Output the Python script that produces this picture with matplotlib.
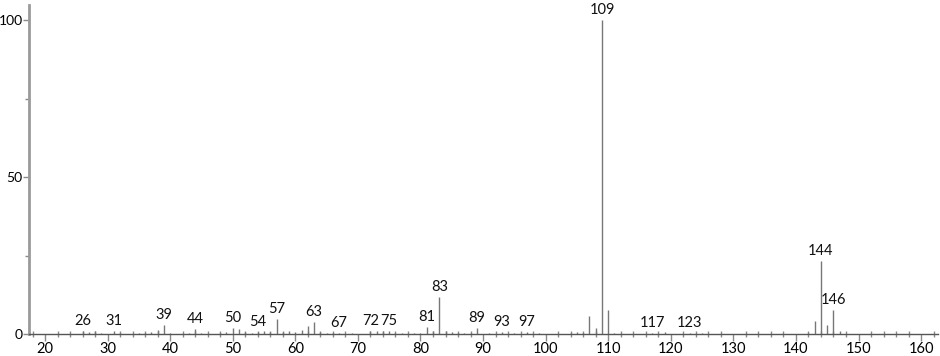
import matplotlib
matplotlib.use("Agg")
import matplotlib.pyplot as plt
from matplotlib.ticker import MultipleLocator

# mass spectrum peaks (m/z, relative intensity %)
mz = [26, 27, 28, 29, 31, 32, 35, 36, 37, 38, 39, 40, 43, 44, 45, 48, 49, 50, 51, 52,
      53, 54, 55, 56, 57, 58, 59, 60, 61, 62, 63, 64, 65, 66, 67, 69, 72, 73, 74, 75,
      76, 77, 79, 80, 81, 82, 83, 84, 85, 86, 87, 88, 89, 91, 93, 95, 97, 99,
      104, 105, 106, 107, 108, 109, 110, 111, 117, 119, 123, 125,
      142, 143, 144, 145, 146, 147]
intensity = [0.8, 0.6, 0.9, 0.3, 0.8, 0.4, 0.3, 0.4, 0.6, 1.2, 2.8, 0.4, 0.3, 1.5, 0.4, 0.3, 0.5, 1.8, 1.6, 0.5,
             0.4, 0.6, 0.8, 0.5, 4.8, 0.5, 1.0, 0.6, 1.3, 2.5, 3.7, 0.6, 0.4, 0.3, 0.4, 0.3, 0.9, 0.8, 0.9, 1.0,
             0.4, 0.3, 0.3, 0.4, 2.3, 1.0, 11.9, 1.0, 0.5, 0.4, 0.3, 0.4, 1.8, 0.3, 0.5, 0.3, 0.5, 0.2,
             0.3, 0.5, 0.4, 5.8, 1.8, 100.0, 7.7, 0.4, 0.3, 0.5, 0.3, 0.3,
             0.3, 4.1, 23.2, 2.9, 7.6, 1.0]

labeled = [26, 31, 39, 44, 50, 54, 57, 63, 67, 72, 75, 81, 83, 89, 93, 97,
           109, 117, 123, 144, 146]

grey = "#8a8a8a"
plt.rcParams['font.family'] = ['Lato', 'DejaVu Sans']

fig = plt.figure(figsize=(9.4, 3.56), dpi=100)
ax = fig.add_axes([29 / 940, 22 / 356, 909 / 940, 329 / 356])

ax.vlines(mz, 0, intensity, color="#777777", linewidth=1.0)

peak = dict(zip(mz, intensity))
for m in labeled:
    h = peak.get(m, 0.3)
    ax.text(m, h + 1.0, str(m), ha="center", va="bottom", fontsize=10.5, color="#111111")

ax.set_xlim(17.44, 162.7)
ax.set_ylim(0, 104.8)

ax.xaxis.set_major_locator(MultipleLocator(10))
ax.xaxis.set_minor_locator(MultipleLocator(2))
ax.yaxis.set_major_locator(MultipleLocator(50))
ax.yaxis.set_minor_locator(MultipleLocator(25))

ax.tick_params(axis="x", which="major", direction="out", length=5, width=1, color=grey,
               labelsize=10.5, pad=1)
ax.tick_params(axis="x", which="minor", direction="inout", length=5, width=1, color=grey)
ax.tick_params(axis="y", which="major", direction="out", length=4, width=1, color=grey,
               labelsize=10, pad=0.5)
ax.tick_params(axis="y", which="minor", direction="out", length=3, width=1, color=grey)

for s in ["top", "right"]:
    ax.spines[s].set_visible(False)
ax.spines["left"].set_color("#9a9a9a")
ax.spines["left"].set_linewidth(2)
ax.spines["bottom"].set_color("#555555")
ax.spines["bottom"].set_linewidth(1)

fig.savefig("out.png", dpi=100)
